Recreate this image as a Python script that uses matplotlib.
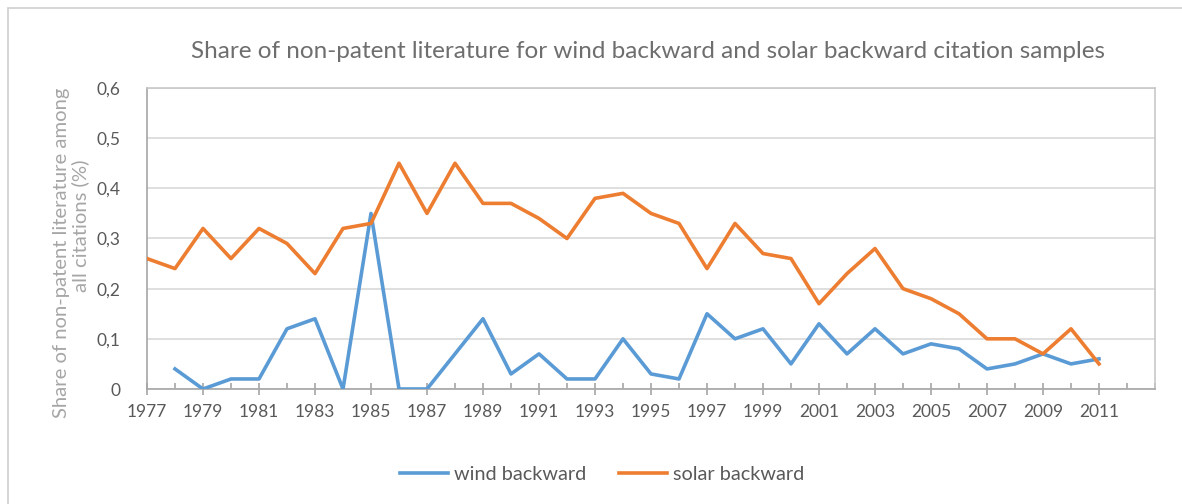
import numpy as np
import matplotlib
matplotlib.use("Agg")
import matplotlib.pyplot as plt
from matplotlib.patches import Rectangle
from matplotlib.ticker import MultipleLocator, FuncFormatter

plt.rcParams['font.family'] = ['Lato', 'DejaVu Sans']

# data
wind_years = list(range(1978, 2012))
wind = [0.04, 0.00, 0.02, 0.02, 0.12, 0.14, 0.00, 0.35, 0.00, 0.00,
        0.07, 0.14, 0.03, 0.07, 0.02, 0.02, 0.10, 0.03, 0.02, 0.15,
        0.10, 0.12, 0.05, 0.13, 0.07, 0.12, 0.07, 0.09, 0.08, 0.04,
        0.05, 0.07, 0.05, 0.06]
solar_years = list(range(1977, 2012))
solar = [0.26, 0.24, 0.32, 0.26, 0.32, 0.29, 0.23, 0.32, 0.33, 0.45,
         0.35, 0.45, 0.37, 0.37, 0.34, 0.30, 0.38, 0.39, 0.35, 0.33,
         0.24, 0.33, 0.27, 0.26, 0.17, 0.23, 0.28, 0.20, 0.18, 0.15,
         0.10, 0.10, 0.07, 0.12, 0.05]

blue = '#5B9BD5'
orange = '#ED7D31'

fig = plt.figure(figsize=(11.82, 5.04), dpi=100)
fig.patches.append(Rectangle((8/1182, -0.1), 1.2, (504-8)/504 + 0.1,
                             transform=fig.transFigure, fill=False,
                             edgecolor='#d0d0d0', lw=1.2))
ax = fig.add_axes([147/1182, 1 - 389/504, (1155-147)/1182, (389-88)/504])

ax.plot(wind_years, wind, color=blue, lw=2.6, label='wind backward',
        solid_joinstyle='round', zorder=3)
ax.plot(solar_years, solar, color=orange, lw=2.6, label='solar backward',
        solid_joinstyle='round', zorder=3)

ax.set_xlim(1977, 2013)
ax.set_ylim(0, 0.6)
ax.xaxis.set_minor_locator(MultipleLocator(1))
ax.set_xticks([y for y in range(1977, 2012, 2)])
ax.yaxis.set_major_locator(MultipleLocator(0.1))
ax.yaxis.set_major_formatter(FuncFormatter(
    lambda v, p: '0' if abs(v) < 1e-9 else ('%.1f' % v).replace('.', ',')))
ax.grid(axis='y', color='#d9d9d9', lw=1.2, zorder=0)
ax.set_axisbelow(True)

for s in ['top', 'right']:
    ax.spines[s].set_color('#c8c8c8')
    ax.spines[s].set_linewidth(1.2)
for s in ['left', 'bottom']:
    ax.spines[s].set_color('#a6a6a6')
    ax.spines[s].set_linewidth(1.2)

ax.tick_params(axis='x', which='major', direction='inout', length=9,
               width=1.2, color='#a6a6a6', labelsize=12.5,
               labelcolor='#595959', pad=6)
ax.tick_params(axis='x', which='minor', direction='in', length=4,
               width=1.2, color='#a6a6a6')
ax.tick_params(axis='y', length=0, labelsize=12.5, labelcolor='#595959',
               pad=19)

fig.text(648/1182, 1 - 52/504,
         'Share of non-patent literature for wind backward and solar backward citation samples',
         ha='center', va='center', fontsize=17.5, color='#6e6e6e')
fig.text(62/1182, 1 - 253/504, 'Share of non-patent literature among',
         rotation=90, ha='center', va='center', fontsize=14.6, color='#a6a6a6')
fig.text(80/1182, 1 - 226/504, 'all citations (%)',
         rotation=90, ha='center', va='center', fontsize=14.6, color='#a6a6a6')

fig.legend(loc='center', bbox_to_anchor=(602/1182, 1 - 474/504), ncol=2,
           frameon=False, fontsize=14.3, handlelength=2.4, handletextpad=0.3,
           columnspacing=1.65, labelcolor='#595959')

fig.savefig('out.png', dpi=100, facecolor='white')
